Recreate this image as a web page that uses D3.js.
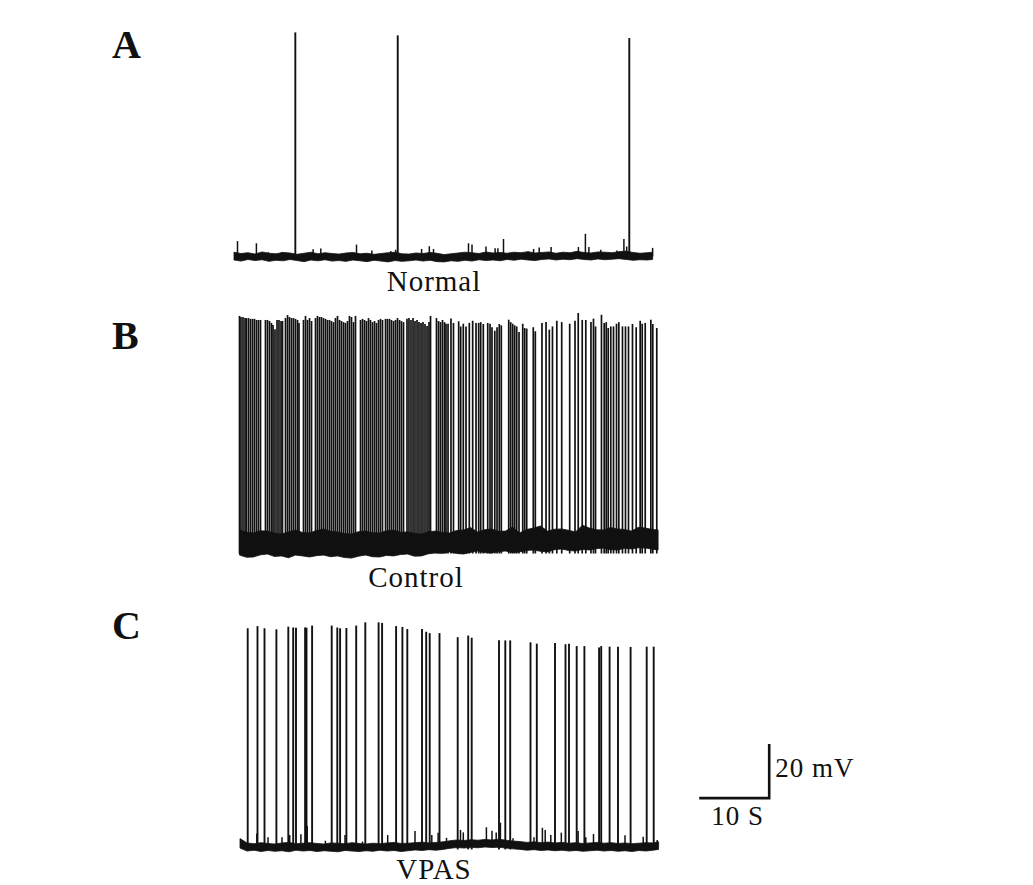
<!DOCTYPE html>
<html>
<head>
<meta charset="utf-8">
<script src="https://cdn.jsdelivr.net/npm/d3@7"></script>
<style>
  body { margin: 0; background: #fff; }
  svg text { font-family: "Liberation Serif", "DejaVu Serif", serif; fill: #111; }
</style>
</head>
<body>
<div id="chart"></div>
<script>
// sampling times (s) for the resting-noise envelopes
var envT = [0, 1, 2, 3, 4, 5, 6, 7, 8, 9, 10, 11, 12, 13, 14, 15, 16, 17, 18, 19, 20, 21, 22, 23, 24, 25, 26, 27, 28, 29,
  30, 31, 32, 33, 34, 35, 36, 37, 38, 39, 40, 41, 42, 43, 44, 45, 46, 47, 48, 49, 50, 51, 52, 53, 54, 55, 56, 57, 58, 59, 59.8];

// ---- A: Normal ----  times in s, amplitudes in mV above resting baseline
var aSpikeT = [8.76, 23.39, 56.47];
var aSpikeV = [83.0, 81.9, 80.9];
var aBumpT = [0.5, 3.2, 4.9, 6.8, 11.3, 12.4, 17.5, 19.7, 22.4, 23.1, 26.8, 27.9, 28.5, 33.5, 34.0, 36.0, 37.3, 37.7, 38.5, 42.8, 43.6, 45.3, 49.2, 50.2, 50.7, 52.4, 54.7, 55.7, 56.1, 59.8];
var aBumpV = [5.7, 4.9, 1.6, 1.6, 2.7, 3.0, 4.4, 2.2, 2.0, 2.5, 2.8, 3.8, 2.8, 4.9, 4.4, 3.7, 3.1, 3.1, 6.5, 2.8, 3.3, 3.5, 3.5, 8.4, 3.5, 2.5, 2.2, 6.5, 3.7, 3.2];
var aEnvHi = [1.6, 1.1, 1.4, 0.9, 1.7, 1.2, 1.0, 1.5, 1.3, 0.8, 1.2, 1.6, 1.0, 1.4, 1.1, 0.9, 1.3, 1.5, 1.0, 1.2,
  0.8, 1.1, 1.4, 1.6, 1.0, 0.9, 1.3, 1.1, 1.5, 1.2, 0.7, 1.0, 1.3, 1.6, 1.4, 1.1, 1.7, 1.3, 1.5, 1.2,
  1.6, 1.4, 1.8, 1.3, 1.5, 1.7, 1.2, 1.6, 1.4, 1.9, 1.5, 1.3, 1.7, 1.6, 1.4, 1.8, 2.0, 1.5, 1.2, 1.4, 1.6];
var aEnvLo = [-1.3, -1.7, -1.1, -1.5, -1.2, -1.8, -1.4, -1.6, -1.1, -1.5, -1.9, -1.3, -1.6, -1.2, -1.7, -1.5, -1.8, -1.3, -1.6, -1.9,
  -1.4, -1.7, -2.0, -1.5, -1.8, -1.6, -1.3, -1.7, -1.4, -1.9, -2.0, -1.6, -1.8, -1.4, -1.7, -1.2, -1.5, -1.3, -1.6, -1.1,
  -1.4, -1.0, -1.3, -1.5, -1.1, -0.9, -1.3, -1.0, -1.2, -0.8, -1.1, -1.3, -0.9, -1.2, -1.0, -0.8, -1.1, -1.4, -1.2, -1.3, -1.1];

// ---- B: Control ----
var bSpikeT = [0.00, 0.21, 0.50, 0.79, 1.00, 1.29, 1.57, 1.86, 2.14, 2.43, 2.71, 3.00,
  3.71, 4.00, 4.29, 4.57, 4.79, 5.07, 5.36, 5.64, 5.93, 6.14,
  6.57, 6.86, 7.14, 7.43, 7.71, 8.00, 8.29, 8.50,
  9.14, 9.43, 9.71, 10.00, 10.29,
  10.86, 11.14, 11.43, 11.71, 12.00, 12.29, 12.57, 12.86, 13.14, 13.43, 13.71, 14.00, 14.29, 14.57,
  14.86, 15.14, 15.43, 15.71, 16.00, 16.29, 16.57,
  17.29, 17.57, 17.86, 18.14, 18.43, 18.71, 19.00, 19.29, 19.57, 19.86, 20.14, 20.43,
  20.86, 21.14, 21.43, 21.71, 22.00, 22.29, 22.57, 22.86, 23.14, 23.43,
  23.93, 24.21, 24.50, 24.79, 25.07, 25.36, 25.64, 25.93, 26.21,
  26.50, 26.79, 27.07, 27.29,
  28.14, 28.43, 28.71, 29.00, 29.29,
  29.50, 29.79, 30.21, 30.57, 31.31, 31.60, 31.97, 32.36, 32.83, 33.31, 33.79, 34.17, 34.46, 34.83, 35.46, 35.79, 36.07, 36.47, 36.79, 37.11, 37.40, 38.46, 38.74, 39.03, 39.31, 39.60, 39.93, 40.46, 40.74, 41.03, 41.97, 42.26, 43.21, 43.79, 44.26,
  44.71, 45.33, 46.03, 47.17, 47.93, 48.39, 48.96, 49.47, 50.21, 50.57, 50.86, 51.71, 52.10, 52.39, 52.67, 53.04, 53.43, 53.86, 54.19, 54.71, 55.14, 55.57, 56.14, 56.67, 57.24, 57.53, 57.96, 58.76, 59.04, 59.61];
var bSpikeV = [83.0, 82.6, 82.6, 82.2, 82.2, 82.2, 81.9, 81.9, 81.9, 81.5, 81.5, 81.5,
  81.5, 81.5, 81.1, 80.4, 79.6, 78.1, 81.5, 81.5, 81.1, 81.1,
  82.2, 83.3, 82.6, 82.2, 82.2, 81.9, 81.5, 80.4,
  81.5, 83.0, 81.5, 82.2, 81.1,
  82.2, 83.0, 82.6, 82.6, 82.2, 81.9, 81.5, 81.5, 81.1, 80.7, 82.2, 83.0, 81.5, 81.1,
  80.7, 80.4, 81.1, 83.0, 82.6, 80.7, 83.0,
  81.5, 81.9, 81.5, 81.1, 82.2, 81.5, 80.7, 81.1, 80.4, 81.5, 81.9, 81.5,
  81.9, 81.9, 81.9, 81.5, 81.1, 81.5, 82.2, 81.5, 81.1, 80.7,
  81.9, 82.2, 81.5, 82.2, 81.1, 81.5, 80.7, 80.4, 80.7,
  80.0, 79.3, 80.7, 83.0,
  82.2, 81.1, 80.7, 81.5, 80.7,
  80.1, 80.1, 82.0, 80.4, 81.0, 79.1, 80.1, 79.1, 80.4, 81.2, 80.4, 80.4, 80.7, 80.0, 80.4, 80.1, 78.8, 77.5, 78.8, 80.0, 79.5, 81.6, 80.7, 80.1, 79.5, 79.1, 77.0, 80.1, 78.5, 78.3, 78.8, 77.3, 80.4, 80.7, 77.9,
  79.1, 81.2, 80.7, 80.1, 81.2, 84.1, 81.5, 81.5, 80.7, 82.0, 79.1, 83.4, 80.4, 80.7, 78.5, 79.1, 79.1, 80.1, 80.7, 79.1, 79.1, 79.1, 80.0, 78.8, 81.2, 80.1, 80.4, 81.6, 80.0, 78.5];
var bEnvHi = [3.7, 2.9, 2.6, 3.4, 3.3, 2.5, 2.2, 3.0, 3.7, 2.8, 2.6, 3.5, 4.1, 3.2, 3.0, 2.4, 2.2, 3.1, 3.3, 2.7,
  2.6, 3.4, 3.7, 2.9, 3.0, 2.5, 2.2, 3.1, 3.3, 2.8, 2.6, 3.5, 3.7, 4.6, 3.0, 3.8, 4.1, 3.2, 3.3, 4.8,
  2.6, 3.9, 4.4, 5.2, 3.3, 4.0, 4.1, 3.6, 3.0, 5.5, 4.4, 3.8, 3.7, 4.6, 4.1, 3.9, 3.3, 4.7, 4.4, 3.9, 3.7];
var bEnvLo = [-5.6, -6.4, -6.3, -5.5, -5.2, -6.1, -5.9, -6.6, -5.6, -5.9, -6.3, -5.8, -5.6, -6.2, -5.9, -6.5, -6.7, -6.0, -5.6, -6.2,
  -6.3, -5.7, -5.9, -5.4, -5.2, -6.0, -5.9, -5.1, -4.8, -4.9, -4.4, -5.0, -5.2, -4.6, -4.1, -4.7, -4.8, -4.3, -4.1, -4.6,
  -4.4, -3.9, -3.7, -4.2, -4.4, -3.6, -3.3, -3.9, -4.1, -3.5, -3.7, -3.2, -3.0, -3.6, -3.7, -3.1, -3.3, -2.9, -3.0, -3.4, -3.7];

// ---- C: VPAS ----
var cSpikeT = [1.1, 2.5, 3.5, 5.2, 6.9, 7.6, 8.0, 9.3, 9.5, 10.3, 13.1, 13.9, 14.3, 15.2, 16.6, 17.9, 19.8, 20.3, 22.3, 23.2, 23.9, 26.0, 26.6, 27.1, 28.5, 31.1, 32.6, 33.1, 37.0, 37.9, 38.6, 41.5, 42.4, 45.0, 46.5, 47.0, 48.1, 49.2, 51.3, 51.6, 52.8, 54.0, 55.8, 58.1, 59.1];
var cSpikeV = [80.9, 81.7, 80.9, 80.5, 81.5, 81.2, 81.1, 81.2, 81.1, 81.9, 81.9, 81.2, 80.9, 81.0, 81.9, 83.1, 83.1, 82.9, 81.7, 81.4, 80.6, 80.6, 79.6, 79.1, 79.1, 77.6, 78.2, 77.4, 76.5, 76.4, 76.4, 75.7, 75.2, 75.4, 75.0, 75.2, 74.3, 74.3, 73.8, 74.3, 74.1, 74.1, 74.0, 74.1, 74.1];
var cBumpT = [2.4, 4.0, 6.0, 7.1, 8.7, 9.6, 12.2, 15.0, 17.5, 21.1, 25.0, 27.4, 28.3, 29.5, 31.5, 31.9, 35.2, 36.0, 36.6, 37.2, 39.0, 42.0, 43.2, 43.6, 44.4, 45.9, 48.3, 49.4, 50.5, 55.0, 57.6, 59.6];
var cBumpV = [4.9, 3.5, 3.5, 4.3, 4.6, 7.7, 2.2, 4.3, 1.9, 4.3, 5.8, 4.3, 5.2, 3.3, 6.2, 5.3, 7.2, 5.9, 5.3, 8.9, 3.1, 3.5, 7.0, 6.2, 4.3, 5.2, 5.8, 3.5, 4.7, 4.2, 3.7, 2.5];
var cEnvHi = [3.0, 1.4, 1.1, 1.5, 1.2, 1.0, 1.4, 1.6, 1.1, 1.3, 1.5, 1.2, 1.0, 1.4, 1.3, 1.1, 1.5, 1.2, 1.0, 1.3,
  1.1, 1.4, 1.6, 1.2, 1.3, 1.5, 1.7, 1.4, 1.6, 1.8, 2.2, 2.5, 2.3, 2.6, 2.4, 2.7, 2.5, 2.8, 2.4, 2.1,
  1.9, 1.6, 1.8, 1.5, 1.7, 1.4, 1.6, 1.3, 1.5, 1.2, 1.4, 1.6, 1.3, 1.5, 1.2, 1.4, 1.1, 1.3, 1.5, 1.4, 1.8];
var cEnvLo = [-0.5, -1.6, -1.3, -1.8, -1.4, -1.7, -1.5, -1.9, -1.3, -1.6, -1.4, -1.8, -1.5, -1.7, -1.9, -1.4, -1.6, -1.8, -1.5, -1.7,
  -1.3, -1.6, -1.4, -1.8, -1.5, -1.2, -1.4, -1.1, -1.3, -1.0, -0.6, -0.3, -0.5, -0.2, -0.4, -0.1, -0.3, -0.2, -0.5, -0.8,
  -1.0, -1.3, -1.1, -1.4, -1.2, -1.5, -1.3, -1.6, -1.4, -1.7, -1.5, -1.3, -1.6, -1.4, -1.7, -1.5, -1.8, -1.4, -1.6, -1.3, -1.0];

var panelLetters = ["A", "B", "C"];
var traceNames = ["Normal", "Control", "VPAS"];

var width = 1033, height = 885;
var pxPerSec = 7, pxPerMv = 2.7;

var svg = d3.select("#chart").append("svg")
  .attr("width", width)
  .attr("height", height)
  .style("display", "block");
svg.append("rect").attr("width", width).attr("height", height).attr("fill", "#fff");

function scales(x0, y0) {
  return {
    x: d3.scaleLinear().domain([0, 60]).range([x0, x0 + 60 * pxPerSec]),
    y: d3.scaleLinear().domain([0, 20]).range([y0, y0 - 20 * pxPerMv])
  };
}

var sA = scales(234, 256.5);
var sB = scales(239.5, 540);
var sC = scales(240, 846.7);

// one recording: noise band, small events, spikes
function drawTrace(s, envHi, envLo, bumpT, bumpV, spikeT, spikeV, spikeFrom, spikeW) {
  var g = svg.append("g");
  var band = d3.area()
    .x(function(d){ return s.x(d[0]) })
    .y0(function(d){ return s.y(d[2]) })
    .y1(function(d){ return s.y(d[1]) });
  g.append("path").datum(d3.zip(envT, envHi, envLo))
    .attr("d", band)
    .attr("fill", "#111").attr("stroke", "#111")
    .attr("stroke-width", 0.8).attr("stroke-linejoin", "round");

  g.selectAll("line.bump").data(d3.zip(bumpT, bumpV)).enter().append("line")
    .attr("class", "bump")
    .attr("x1", function(d){ return s.x(d[0]) }).attr("x2", function(d){ return s.x(d[0]) })
    .attr("y1", s.y(0))
    .attr("y2", function(d){ return s.y(d[1]) })
    .attr("stroke", "#111").attr("stroke-width", 1.5);

  g.selectAll("line.spike").data(d3.zip(spikeT, spikeV)).enter().append("line")
    .attr("class", "spike")
    .attr("x1", function(d){ return s.x(d[0]) }).attr("x2", function(d){ return s.x(d[0]) })
    .attr("y1", s.y(spikeFrom))
    .attr("y2", function(d){ return s.y(d[1]) })
    .attr("stroke", "#111").attr("stroke-width", spikeW);
}

drawTrace(sA, aEnvHi, aEnvLo, aBumpT, aBumpV, aSpikeT, aSpikeV, -1, 1.9);
drawTrace(sB, bEnvHi, bEnvLo, [], [], bSpikeT, bSpikeV, -5, 1.7);
drawTrace(sC, cEnvHi, cEnvLo, cBumpT, cBumpV, cSpikeT, cSpikeV, -1, 1.9);

// trace names
var nameX = [434, 416, 434], nameY = [291, 587, 879];
traceNames.forEach(function(n, i) {
  svg.append("text").attr("x", nameX[i]).attr("y", nameY[i])
    .attr("text-anchor", "middle").style("font-size", "29px").style("letter-spacing", "1px")
    .text(n);
});

// panel letters
var letterY = [58, 349, 639];
panelLetters.forEach(function(l, i) {
  svg.append("text").attr("x", 112).attr("y", letterY[i])
    .style("font-size", "40px").style("font-weight", "bold")
    .text(l);
});

// scale bar: 10 s x 20 mV, drawn with panel C scales
var sbT = 65.6, sbV = 18;
svg.append("path")
  .attr("d", "M" + sC.x(sbT) + "," + sC.y(sbV) + "H" + sC.x(sbT + 10) + "V" + sC.y(sbV + 20))
  .attr("fill", "none").attr("stroke", "#111").attr("stroke-width", 2.6);
svg.append("text").attr("x", sC.x(sbT + 10) + 6).attr("y", sC.y(sbV) - 21)
  .style("font-size", "27px").style("letter-spacing", "1px").text("20 mV");
svg.append("text").attr("x", sC.x(sbT) + 12).attr("y", sC.y(sbV) + 27)
  .style("font-size", "27px").style("letter-spacing", "1px").text("10 S");
</script>
</body>
</html>
